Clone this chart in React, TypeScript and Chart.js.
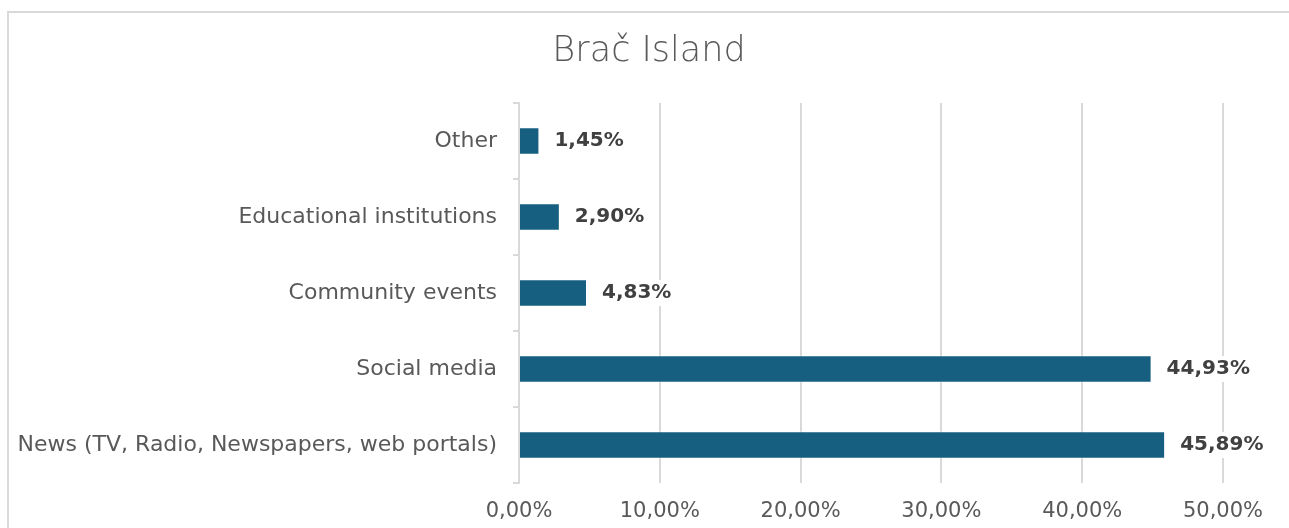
import React, { useEffect, useRef } from "react";
import { Chart, registerables } from "chart.js";

Chart.register(...registerables);

const chartTitle = "Brač Island";
const categories = [
  "Other",
  "Educational institutions",
  "Community events",
  "Social media",
  "News (TV, Radio, Newspapers, web portals)",
];
const shares = [1.45, 2.9, 4.83, 44.93, 45.89];
const axisMin = 0;
const axisMax = 50;
const axisStep = 10;

const FONT = "'DejaVu Sans', sans-serif";
const fmt = (v: number) => v.toFixed(2).replace(".", ",") + "%";

const titlePlugin = {
  id: "customTitle",
  afterDraw(chart: any) {
    const ctx = chart.ctx;
    ctx.save();
    ctx.font = `300 35px ${FONT}`;
    ctx.fillStyle = "#595959";
    ctx.textAlign = "center";
    ctx.textBaseline = "middle";
    ctx.fillText(chartTitle, 649, 52);
    ctx.restore();
  },
};

const valueLabelPlugin = {
  id: "valueLabels",
  afterDatasetsDraw(chart: any) {
    const ctx = chart.ctx;
    const meta = chart.getDatasetMeta(0);
    ctx.save();
    ctx.font = `bold 20px ${FONT}`;
    ctx.textAlign = "left";
    ctx.textBaseline = "middle";
    meta.data.forEach((bar: any, i: number) => {
      const text = fmt(shares[i]);
      const x = bar.x + 15;
      const y = bar.y;
      const w = ctx.measureText(text).width;
      ctx.fillStyle = "#ffffff";
      ctx.fillRect(x - 3, y - 13, w + 6, 26);
      ctx.fillStyle = "#404040";
      ctx.fillText(text, x, y);
    });
    ctx.restore();
  },
};

export default function App() {
  const ref = useRef<HTMLCanvasElement | null>(null);

  useEffect(() => {
    if (!ref.current) return;
    const chart = new Chart(ref.current, {
      type: "bar",
      data: {
        labels: categories,
        datasets: [
          {
            data: shares,
            backgroundColor: "#175f81",
            borderColor: "rgba(255,255,255,0.5)",
            borderWidth: 1,
            barPercentage: 0.36,
            categoryPercentage: 1,
          },
        ],
      },
      options: {
        indexAxis: "y",
        animation: false,
        responsive: false,
        layout: { padding: { top: 103, right: 66, left: 0, bottom: 0 } },
        plugins: {
          legend: { display: false },
          title: { display: false },
          tooltip: { enabled: false },
        },
        scales: {
          x: {
            type: "linear",
            min: axisMin,
            max: axisMax,
            afterFit: (s: any) => {
              s.height = 45;
            },
            ticks: {
              stepSize: axisStep,
              callback: (v: any) => fmt(Number(v)),
              color: "#595959",
              font: { family: FONT, size: 21 },
              padding: 16,
            },
            grid: {
              color: "#d9d9d9",
              lineWidth: 2,
              drawTicks: false,
            },
            border: { display: false },
          },
          y: {
            afterFit: (s: any) => {
              s.width = 519;
            },
            ticks: {
              color: "#595959",
              font: { family: FONT, size: 22 },
              padding: 16,
            },
            grid: {
              drawOnChartArea: false,
              drawTicks: true,
              tickLength: 6,
              color: "#d9d9d9",
              lineWidth: 2,
            },
            border: { display: true, color: "#d9d9d9", width: 2 },
          },
        },
      },
      plugins: [titlePlugin, valueLabelPlugin],
    });
    return () => chart.destroy();
  }, []);

  return (
    <div style={{ position: "absolute", left: 0, top: 0, width: 1289, height: 528, overflow: "hidden", background: "#fff" }}>
      <div
        style={{
          position: "absolute",
          left: 7,
          top: 11,
          width: 1282,
          height: 517,
          borderTop: "2px solid #d9d9d9",
          borderLeft: "2px solid #d9d9d9",
          boxSizing: "border-box",
        }}
      />
      <canvas
        ref={ref}
        width={1289}
        height={528}
        style={{ position: "absolute", left: 0, top: 0, width: 1289, height: 528 }}
      />
    </div>
  );
}
